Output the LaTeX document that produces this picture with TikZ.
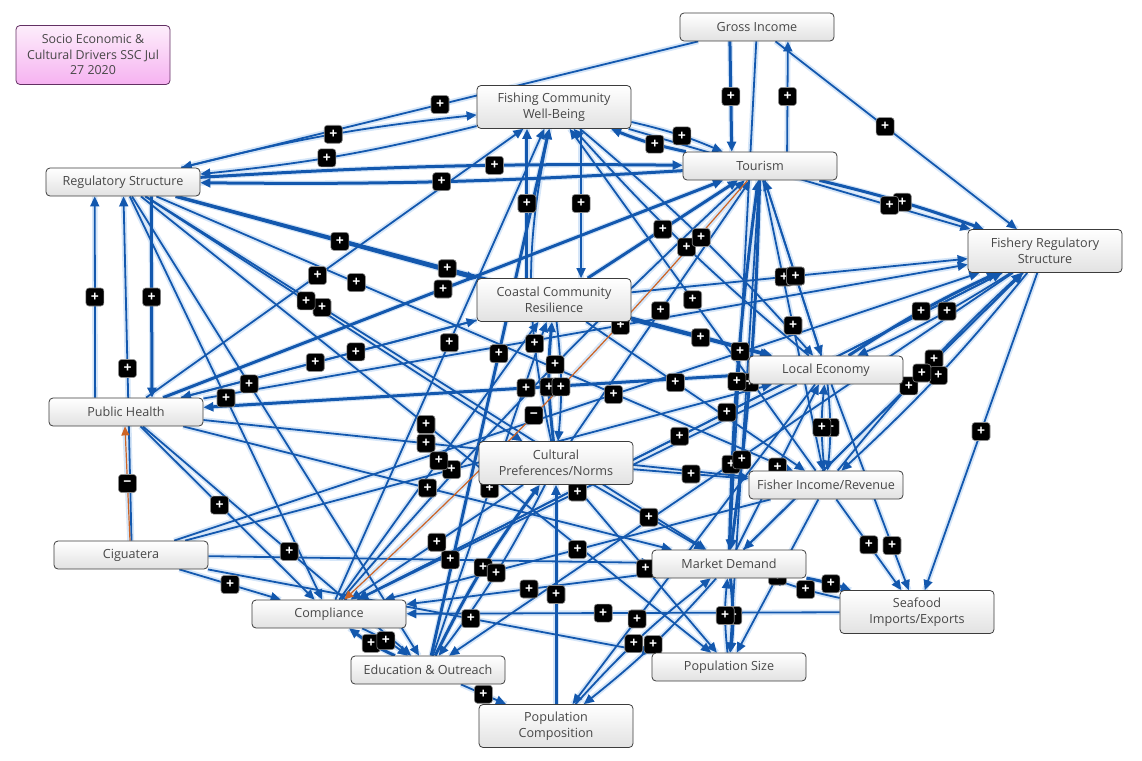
\documentclass[tikz,border=0pt]{standalone}
\usepackage{fontspec}
\setmainfont{Open Sans}
\usepackage{xcolor}
\definecolor{cLink}{HTML}{1358AE}
\definecolor{cGlow}{HTML}{D6E6F8}
\definecolor{cNeg}{HTML}{CD6425}
\definecolor{cFrame}{HTML}{3C3C3C}
\definecolor{cText}{HTML}{474747}
\definecolor{cShade}{HTML}{E2E2E2}
\definecolor{cPinkTop}{HTML}{FDEEFB}
\definecolor{cPinkBot}{HTML}{F6B2F1}
\usepackage{tikz}
\usetikzlibrary{arrows.meta}
\pgfdeclarelayer{halo}
\pgfdeclarelayer{links}
\pgfdeclarelayer{marks}
\pgfsetlayers{halo,links,marks,main}
\tikzset{
  factor/.style={draw=cFrame,line width=0.8pt,rounded corners=4pt,
    top color=white,bottom color=cShade,text=cText,
    minimum width=154pt,minimum height=28pt,align=center,inner sep=2pt,
    font=\fontsize{12.6}{16}\selectfont},
  factor-2/.style={factor,minimum height=43pt},
  title-box/.style={factor,minimum width=154pt,minimum height=59pt,
    top color=cPinkTop,bottom color=cPinkBot,draw=cFrame!80!magenta,
    font=\fontsize{12.4}{15.5}\selectfont},
  arrow/.style={-{Triangle[length=10pt,width=9pt]},line width=1.8pt,draw=cLink},
  arrow-bold/.style={arrow,line width=3pt},
  arrow-neg/.style={arrow,line width=1.2pt,draw=cNeg,
    -{Triangle[length=9pt,width=8pt]}},
  glow/.style={draw=cGlow,line width=5.5pt,-},
  badge/.style={fill=black,draw=black!45,line width=0.6pt,rounded corners=3pt,
    minimum size=18pt,inner sep=0pt,text=white,
    font=\bfseries\fontsize{14}{14}\selectfont},
}
\begin{document}
\begin{tikzpicture}[x=1pt,y=-1pt]
  \useasboundingbox (0,0) rectangle (1142,760);
  \node[title-box] (title) at (93,55) {Socio Economic \&\\Cultural Drivers SSC Jul\\27 2020};
  \node[factor]   (gross)   at (757,27)  {Gross Income};
  \node[factor-2] (wellb)   at (554,107) {Fishing Community\\Well-Being};
  \node[factor]   (tour)    at (760,166) {Tourism};
  \node[factor]   (regs)    at (123,182) {Regulatory Structure};
  \node[factor-2] (fishreg) at (1045,251) {Fishery Regulatory\\Structure};
  \node[factor-2] (resil)   at (554,300) {Coastal Community\\Resilience};
  \node[factor]   (econ)    at (826,370) {Local Economy};
  \node[factor]   (health)  at (126,412) {Public Health};
  \node[factor-2] (cult)    at (556,463) {Cultural\\Preferences/Norms};
  \node[factor]   (income)  at (826,485) {Fisher Income/Revenue};
  \node[factor]   (cig)     at (131,555) {Ciguatera};
  \node[factor]   (market)  at (729,564) {Market Demand};
  \node[factor-2] (seafood) at (917,612) {Seafood\\Imports/Exports};
  \node[factor]   (compl)   at (329,614) {Compliance};
  \node[factor]   (edu)     at (428,670) {Education \& Outreach};
  \node[factor]   (popsize) at (729,667) {Population Size};
  \node[factor-2] (popcomp) at (556,726) {Population\\Composition};

  % links: source / target / badge position / sign / style / bend
  \foreach \a/\b/\p/\s/\w/\bn in {
    gross/regs/.5/+/arrow/0, wellb/regs/.55/+/arrow/4, regs/wellb/.52/+/arrow/4,
    tour/regs/.5/+/arrow-bold/2, regs/tour/.62/+/arrow-bold/2,
    gross.208/tour.153/.5/+/arrow-bold/0, tour.28/gross.335/.5/+/arrow/0,
    gross/fishreg/.45/+/arrow/0, tour/wellb/.4/+/arrow-bold/5, wellb/tour/.55/+/arrow/5,
    tour/fishreg/.5/+/arrow-bold/3, wellb/fishreg/.78/+/arrow/0, gross/market/.62/+/arrow/0,
    health.155/regs.207/.5/+/arrow/0, regs.333/health.29/.5/+/arrow-bold/0,
    cig.88/regs.272/.5/+/arrow/0,
    regs/resil/.55/+/arrow-bold/0, regs/econ/.45/+/arrow-bold/0, regs/income/.3/+/arrow/0,
    regs/market/.3/+/arrow/0, regs/compl/.5/+/arrow/0, regs/edu/.4/+/arrow/0,
    regs/cult/.42/+/arrow/0, regs/popsize/.5/+/arrow/0,
    health/wellb/.45/+/arrow/0, health/resil/.6/+/arrow/0, health/tour/.5/+/arrow-bold/0,
    health/fishreg/.55/+/arrow/0, econ/health/.4/+/arrow-bold/0, resil/health/.55/+/arrow/0,
    health/compl/.45/+/arrow/0, health/edu/.55/+/arrow/0, health/market/.5/+/arrow/0,
    health/income/.4/+/arrow/0,
    resil.141/wellb.219/.5/+/arrow-bold/0, wellb.321/resil.39/.5/+/arrow/0,
    cult/wellb/.3/+/arrow/12, cult/resil/.45/+/arrow-bold/6, resil/cult/.55/+/arrow/6,
    popcomp/cult/.5/+/arrow-bold/0,
    resil/fishreg/.45/+/arrow/0, resil/econ/.5/+/arrow-bold/0, resil/income/.4/+/arrow/0,
    econ/fishreg/.5/+/arrow-bold/4, fishreg/econ/.42/+/arrow/4,
    income/fishreg/.55/+/arrow/4, fishreg/income/.5/+/arrow/4,
    market/fishreg/.6/+/arrow/0, fishreg/seafood/.5/+/arrow/0, fishreg/compl/.42/+/arrow/0,
    fishreg/market/.35/+/arrow/0, fishreg/edu/.5/+/arrow/0,
    econ/income/.5/+/arrow/6, income/econ/.5/+/arrow/6,
    tour/econ/.55/+/arrow/0, tour/market/.55/+/arrow-bold/3, market/tour/.45/+/arrow-bold/3,
    tour/income/.5/+/arrow/0, tour/popsize/.6/+/arrow/0, econ/tour/.45/+/arrow/0,
    market/seafood/.55/+/arrow-bold/4, seafood/market/.5/+/arrow/4,
    income/seafood/.5/+/arrow/0, econ/seafood/.8/+/arrow/0,
    market/popsize/.5/+/arrow-bold/6, popsize/market/.5/+/arrow/6, income/popsize/.5/+/arrow/0,
    cig/market/.55/+/arrow/0, cig/compl/.5/+/arrow/0, cig/popsize/.6/+/arrow/0,
    cig/econ/.45/+/arrow/0, cig/fishreg/.55/+/arrow/0,
    compl/resil/.5/+/arrow/0, compl/fishreg/.5/+/arrow/0, compl/wellb/.55/+/arrow/0,
    edu/compl/.5/+/arrow-bold/6, compl/edu/.5/+/arrow/6, edu/popcomp/.5/+/arrow/0,
    edu/cult/.5/+/arrow-bold/5, cult/edu/.5/+/arrow/5, edu/resil/.5/+/arrow/0,
    edu/wellb/.58/+/arrow-bold/0,
    cult/compl/.5/+/arrow/0, cult/market/.5/+/arrow/0, cult/popsize/.5/+/arrow/0,
    cult/income/.5/+/arrow/0, cult/tour/.5/+/arrow/0,
    market/popcomp/.5/+/arrow/5, popcomp/market/.45/+/arrow/5, econ/popcomp/.75/+/arrow/0,
    econ/compl/.5/+/arrow/0, income/compl/.5/+/arrow/0, market/compl/.5/+/arrow/0,
    seafood/compl/.55/+/arrow/0,
    econ/wellb/.5/+/arrow/4, wellb/econ/.5/+/arrow/4, income/wellb/.5/+/arrow/0,
    resil/tour/.5/+/arrow-bold/0, compl/tour/.55/+/arrow/3, market/econ/.5/+/arrow/0,
    cig.94/health.266/.5/−/arrow-neg/0, tour/compl/.55/−/arrow-neg/3}
  {
    \begin{pgfonlayer}{halo}
      \draw[\w,glow] (\a) to[bend left=\bn] (\b);
    \end{pgfonlayer}
    \begin{pgfonlayer}{links}
      \draw[\w] (\a) to[bend left=\bn] coordinate[pos=\p] (m) (\b);
    \end{pgfonlayer}
    \begin{pgfonlayer}{marks}
      \node[badge] at (m) {\s};
    \end{pgfonlayer}
  }
\end{tikzpicture}
\end{document}
